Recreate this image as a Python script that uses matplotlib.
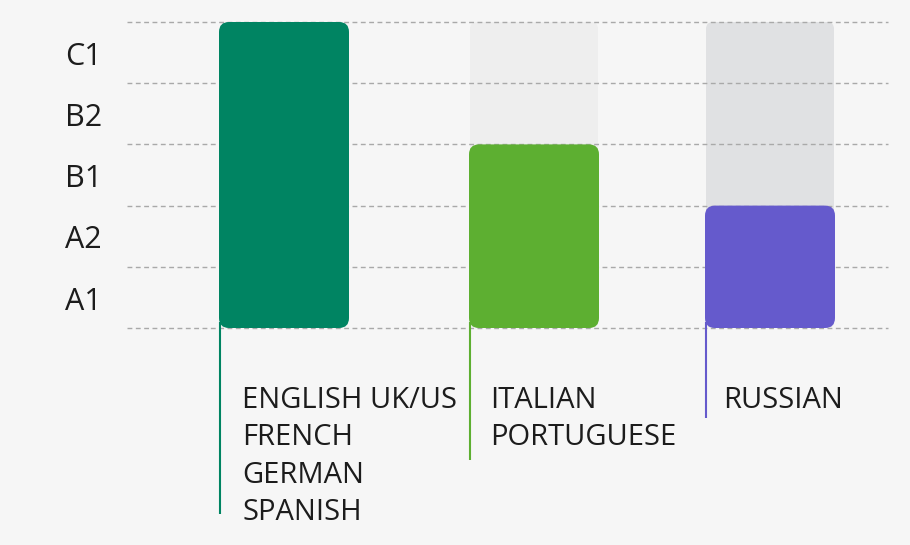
import matplotlib.pyplot as plt
from matplotlib.patches import FancyBboxPatch

plt.rcParams['font.family'] = ['Open Sans', 'DejaVu Sans']

# data
levels = ['A1', 'A2', 'B1', 'B2', 'C1']
max_level = 5
groups = [['ENGLISH UK/US', 'FRENCH', 'GERMAN', 'SPANISH'],
          ['ITALIAN', 'PORTUGUESE'],
          ['RUSSIAN']]
group_level = [5, 3, 2]

# layout (pixel based x axis, level based y axis)
bar_x = [219, 469, 705]
bar_w = 130
bar_colors = ['#008462', '#5daf31', '#655acc']
bg_colors = [None, '#eeeeee', '#e0e1e3']
px_per_level = 61.2
base_py = 328
line_end_py = [514, 460, 418]
text_dx = [23, 21, 18]
text_color = '#1c1c1c'


def lv(py):
    return (base_py - py) / px_per_level


fig = plt.figure(figsize=(9.1, 5.45), dpi=100)
fig.patch.set_facecolor('#f6f6f6')
ax = fig.add_axes([0, 0, 1, 1])
ax.set_facecolor('#f6f6f6')
ax.set_xlim(0, 910)
ax.set_ylim(lv(545), lv(0))
ax.axis('off')

# grid lines
for i in range(max_level + 1):
    ax.hlines(i, 127, 888, colors='#a9a9a9', linewidth=1,
              linestyles=(0, (3.5, 2.5)), zorder=2)

# level labels
for i, name in enumerate(levels):
    ax.text(65, i + 0.5 - 0.07, name, fontsize=22, color=text_color,
            ha='left', va='center')

asp = 1 / px_per_level
for x, lvl, col, bg, names, yend, dx in zip(bar_x, group_level, bar_colors,
                                            bg_colors, groups, line_end_py, text_dx):
    if bg is not None:
        ax.add_patch(FancyBboxPatch((x + 1, 0), bar_w - 2, max_level,
                                    boxstyle='round,pad=0,rounding_size=7',
                                    mutation_aspect=asp, fc=bg, ec='none', zorder=1))
    ax.add_patch(FancyBboxPatch((x, 0), bar_w, lvl,
                                boxstyle='round,pad=0,rounding_size=10',
                                mutation_aspect=asp, fc=col, ec='none', zorder=3))
    ax.vlines(x + 0.5, lv(yend), 0.1, colors=col, linewidth=1.5, zorder=4)
    ax.text(x + dx, lv(386), '\n'.join(names), fontsize=21, color=text_color,
            ha='left', va='top', linespacing=1.38)

fig.savefig('out.png', dpi=100, facecolor=fig.get_facecolor())
